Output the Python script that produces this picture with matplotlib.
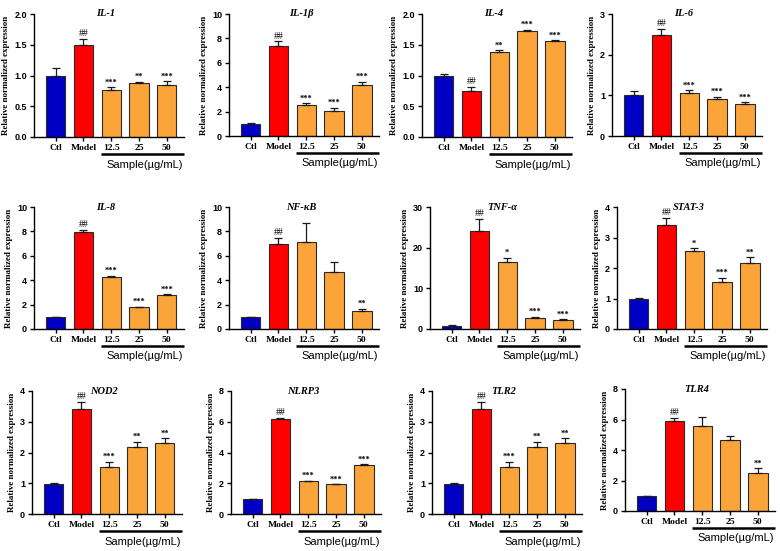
import matplotlib
matplotlib.use('Agg')
import matplotlib.pyplot as plt
from matplotlib.ticker import FormatStrFormatter
import numpy as np

groups = ['Ctl', 'Model', '12.5', '25', '50']
genes = ['IL-1', 'IL-1β', 'IL-4', 'IL-6',
         'IL-8', 'NF-κB', 'TNF-α', 'STAT-3',
         'NOD2', 'NLRP3', 'TLR2', 'TLR4']

means = [
    [1.00, 1.49, 0.76, 0.87, 0.85],   # IL-1
    [0.97, 7.40, 2.55, 2.08, 4.18],   # IL-1b
    [1.00, 0.74, 1.39, 1.73, 1.56],   # IL-4
    [1.00, 2.48, 1.05, 0.92, 0.78],   # IL-6
    [0.97, 7.92, 4.30, 1.78, 2.80],   # IL-8
    [0.97, 6.97, 7.10, 4.70, 1.45],   # NF-kB
    [0.80, 24.1, 16.5, 2.70, 2.10],   # TNF-a
    [0.99, 3.40, 2.57, 1.53, 2.17],   # STAT-3
    [0.99, 3.40, 1.53, 2.17, 2.32],   # NOD2
    [0.97, 6.17, 2.12, 1.92, 3.20],   # NLRP3
    [0.99, 3.40, 1.53, 2.17, 2.32],   # TLR2
    [0.97, 5.92, 5.60, 4.65, 2.50],   # TLR4
]
errs = [
    [0.12, 0.11, 0.05, 0.03, 0.06],
    [0.10, 0.35, 0.15, 0.25, 0.25],
    [0.02, 0.08, 0.02, 0.01, 0.01],
    [0.10, 0.15, 0.07, 0.05, 0.05],
    [0.05, 0.20, 0.05, 0.05, 0.03],
    [0.03, 0.50, 1.55, 0.80, 0.20],
    [0.15, 3.00, 1.00, 0.30, 0.25],
    [0.02, 0.25, 0.08, 0.15, 0.18],
    [0.02, 0.25, 0.17, 0.18, 0.15],
    [0.03, 0.10, 0.05, 0.03, 0.03],
    [0.02, 0.25, 0.17, 0.18, 0.15],
    [0.03, 0.20, 0.55, 0.25, 0.30],
]
marks = [
    ['', '##', '***', '**', '***'],
    ['', '##', '***', '***', '***'],
    ['', '##', '**', '***', '***'],
    ['', '##', '***', '***', '***'],
    ['', '##', '***', '***', '***'],
    ['', '##', '', '', '**'],
    ['', '##', '*', '***', '***'],
    ['', '##', '*', '***', '**'],
    ['', '##', '***', '**', '**'],
    ['', '##', '***', '***', '***'],
    ['', '##', '***', '**', '**'],
    ['', '##', '', '', '**'],
]
ymax = [2.0, 10, 2.0, 3, 10, 10, 30, 4, 4, 8, 4, 8]
ystep = [0.5, 2, 0.5, 1, 2, 2, 10, 1, 1, 2, 1, 2]

# axes placement in pixels (left, top, bottom)
W, H = 780, 551
boxes = [(34, 14, 137), (229, 14, 136), (422, 14, 137), (612, 14, 136),
         (34, 207, 329), (229, 207, 329), (430, 207, 329), (617, 207, 329),
         (32, 391, 514), (231, 391, 514), (432, 391, 514), (625, 389, 511)]
axw = 150

colors = ['#0000C4', '#FF0000', '#FBA43A', '#FBA43A', '#FBA43A']
serif = ['Liberation Serif', 'DejaVu Serif']
sans = ['Liberation Sans', 'DejaVu Sans']

fig = plt.figure(figsize=(W / 100, H / 100), dpi=100)

for i in range(12):
    l, t, b = boxes[i]
    ax = fig.add_axes([l / W, (H - b) / H, axw / W, (b - t) / H])
    x = np.arange(5)
    ax.bar(x, means[i], width=0.7, color=colors, edgecolor='#2a2a2a', linewidth=0.8, zorder=2)
    ax.errorbar(x, means[i], yerr=[np.zeros(5), errs[i]], fmt='none', ecolor='#1a1a1a',
                elinewidth=0.9, capsize=3.2, capthick=0.9, zorder=3)
    for j in range(5):
        m = marks[i][j]
        if m:
            ax.annotate(m, (x[j], means[i][j] + errs[i][j]), xytext=(0, 0.5),
                        textcoords='offset points', ha='center', va='bottom',
                        fontsize=7 if m == '##' else 6, family=serif,
                        fontweight='normal' if m == '##' else 'bold')
    ax.set_xlim(-0.78, 4.62)
    ax.set_ylim(0, ymax[i])
    ax.set_yticks(np.arange(0, ymax[i] + ystep[i] / 2, ystep[i]))
    if ystep[i] < 1:
        ax.yaxis.set_major_formatter(FormatStrFormatter('%.1f'))
    else:
        ax.yaxis.set_major_formatter(FormatStrFormatter('%d'))
    ax.set_xticks(x)
    ax.set_xticklabels(groups, family=serif, fontweight='bold', fontsize=6.8)
    for lab in ax.get_yticklabels():
        lab.set_family(sans)
        lab.set_fontweight('bold')
        lab.set_fontsize(6.5)
    ax.tick_params(direction='out', length=3, width=1, pad=2)
    for s in ['top', 'right']:
        ax.spines[s].set_visible(False)
    for s in ['left', 'bottom']:
        ax.spines[s].set_linewidth(1)
    ax.set_ylabel('Relative normalized expression', family=serif, fontweight='bold',
                  fontsize=6.5, labelpad=3)
    ax.text(0.48, 1.0, genes[i], transform=ax.transAxes, ha='center', va='center',
            family=serif, fontweight='bold', style='italic', fontsize=7.5)
    tr = ax.get_xaxis_transform()
    ax.plot([1.62, 4.62], [-0.14, -0.14], color='black', lw=1.8, transform=tr,
            clip_on=False, solid_capstyle='butt')
    ax.text(3.2, -0.225, 'Sample(µg/mL)', transform=tr, ha='center', va='center',
            family=sans, fontsize=8)

fig.savefig('out.png', dpi=100)
